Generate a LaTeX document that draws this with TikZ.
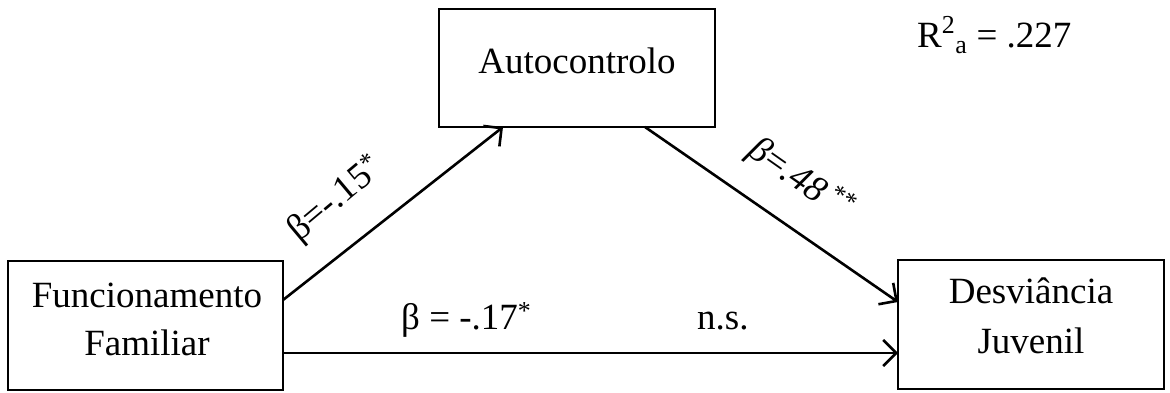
\documentclass[tikz,border=0pt]{standalone}
\usepackage{fontspec}
\setmainfont{Liberation Serif}
\usetikzlibrary{arrows.meta}
\begin{document}
\begin{tikzpicture}[x=1pt,y=-1pt,
  every node/.style={font=\fontsize{37}{44}\selectfont},
  boxnode/.style={draw, line width=1.3pt, inner sep=0pt},
  conn/.style={line width=2.6pt, -{Straight Barb[length=13pt,width=26pt,line width=2.6pt]}},
  lbl/.style={inner sep=0pt}]
\useasboundingbox (0,0) rectangle (1170,392);
\node[boxnode, minimum width=276pt, minimum height=118pt] (auto) at (577,68) {};
\node[boxnode, minimum width=275pt, minimum height=129pt] (func) at (145.5,325.5) {};
\node[boxnode, minimum width=266pt, minimum height=129pt] (desv) at (1031,324.5) {};
\node[lbl, anchor=base] (autot) at (577,73) {Autocontrolo};
\node[lbl, anchor=base] (funct1) at (147,307) {Funcionamento};
\node[lbl, anchor=base] (funct2) at (147,355) {Familiar};
\node[lbl, anchor=base] (desvt1) at (1031,303) {Desviância};
\node[lbl, anchor=base] (desvt2) at (1031,353) {Juvenil};
\coordinate (a1) at (503,127);
\coordinate (f1) at (283,300);
\coordinate (a2) at (645,127);
\coordinate (d1) at (898,302);
\coordinate (f2) at (283,353);
\coordinate (d2) at (898,353);
\draw[conn] (f1) -- (a1);
\draw[conn] (a2) -- (d1);
\draw[conn] (f2) -- (d2);
\node[lbl, rotate=40] (b1) at (336,200) {β=-.15\textsuperscript{*}};
\node[lbl, rotate=-35] (b2) at (801,180) {\textit{β}=\textit{.48}\,\raisebox{3pt}{\textsuperscript{**}}};
\node[lbl, anchor=base west] (b3) at (401,329) {β = -.17\textsuperscript{*}};
\node[lbl, anchor=base west] (ns) at (697,329) {n.s.};
\node[lbl, anchor=base west] (r2) at (917,47) {R\raisebox{4pt}{\textsuperscript{2}}\raisebox{-3pt}{\textsubscript{a}} = .227};
\end{tikzpicture}
\end{document}
